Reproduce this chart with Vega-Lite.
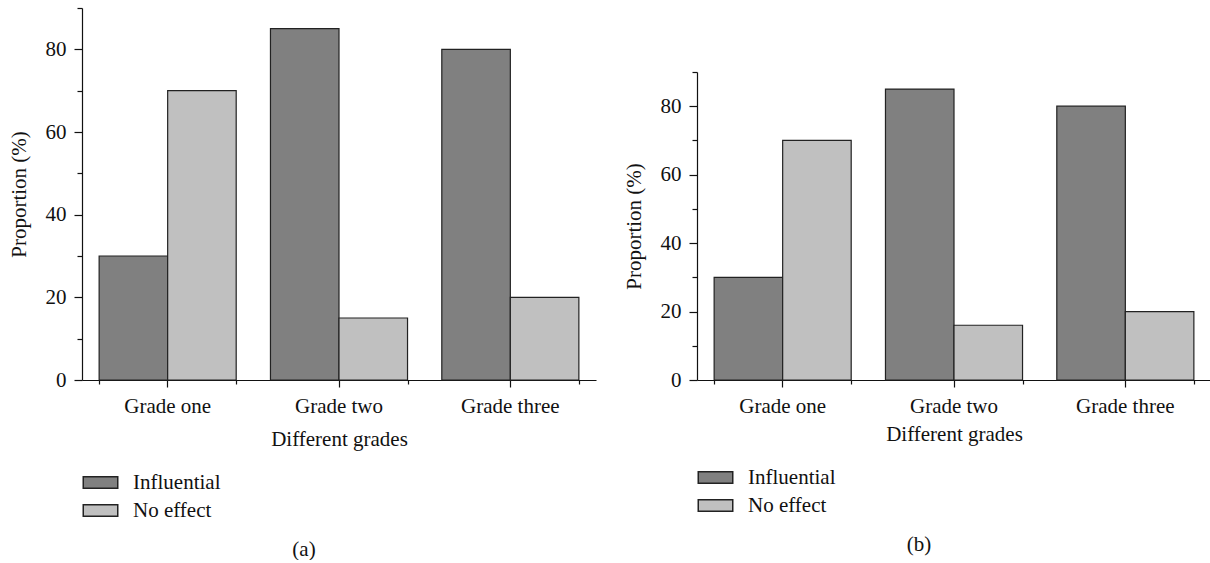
{
  "$schema": "https://vega.github.io/schema/vega-lite/v6.json",
  "padding": {"left": 8, "top": -34, "right": 0, "bottom": 0},
  "spacing": 27,
  "config": {
    "font": "Liberation Serif",
    "view": {"stroke": null},
    "axis": {
      "grid": false,
      "domainColor": "#111",
      "domainWidth": 1.2,
      "tickColor": "#111",
      "tickWidth": 1.2,
      "labelColor": "#111",
      "titleColor": "#111",
      "labelFont": "Liberation Serif",
      "titleFont": "Liberation Serif",
      "labelFontSize": 21,
      "titleFontSize": 21,
      "titleFontWeight": "normal"
    },
    "legend": {
      "labelFont": "Liberation Serif",
      "labelFontSize": 21,
      "labelColor": "#111"
    },
    "title": {"font": "Liberation Serif", "fontSize": 21, "fontWeight": "normal", "color": "#111"}
  },
  "hconcat": [
    {
      "width": 514,
      "height": 372,
      "title": {"text": "(a)", "orient": "bottom", "anchor": "middle", "dx": -35, "offset": 18},
      "data": {"values": [
        {"grade": "Grade one", "effect": "Influential", "value": 30},
        {"grade": "Grade one", "effect": "No effect", "value": 70},
        {"grade": "Grade two", "effect": "Influential", "value": 85},
        {"grade": "Grade two", "effect": "No effect", "value": 15},
        {"grade": "Grade three", "effect": "Influential", "value": 80},
        {"grade": "Grade three", "effect": "No effect", "value": 20}
      ]},
      "layer": [
        {
          "mark": {"type": "bar", "stroke": "#222", "strokeWidth": 1.2},
          "encoding": {
            "x": {"field": "grade", "type": "nominal", "sort": ["Grade one", "Grade two", "Grade three"],
                  "scale": {"paddingInner": 0.2, "paddingOuter": 0.1},
                  "axis": {"title": "Different grades", "labelAngle": 0, "tickSize": 7, "labelPadding": 8, "titleY": 59, "titleBaseline": "middle", "orient": "bottom"}},
            "xOffset": {"field": "effect", "type": "nominal", "sort": ["Influential", "No effect"]},
            "y": {"field": "value", "type": "quantitative", "scale": {"domain": [0, 90], "nice": false},
                  "axis": {"values": [0, 20, 40, 60, 80], "tickSize": 8, "labelPadding": 8, "title": "Proportion (%)", "titleX": -63, "titleBaseline": "middle", "orient": "left"}},
            "color": {"field": "effect", "type": "nominal",
                      "scale": {"domain": ["Influential", "No effect"], "range": ["#808080", "#c0c0c0"]},
                      "legend": {"orient": "none", "legendX": 6, "legendY": 462, "title": null, "padding": 0,
                                 "symbolType": "M-1.5,-0.5L1.5,-0.5L1.5,0.5L-1.5,0.5Z", "symbolSize": 529,
                                 "symbolStrokeColor": "#222", "symbolStrokeWidth": 1.5, "symbolOpacity": 1,
                                 "labelOffset": 20, "rowPadding": 5}}
          }
        },
        {
          "mark": {"type": "bar", "opacity": 0},
          "encoding": {
            "x": {"field": "grade", "type": "nominal", "sort": ["Grade one", "Grade two", "Grade three"],
                  "axis": {"title": null, "labels": false, "domain": false, "tickBand": "extent", "tickSize": 4, "orient": "bottom"}},
            "y": {"field": "value", "type": "quantitative",
                  "axis": {"values": [10, 30, 50, 70, 90], "labels": false, "domain": false, "tickSize": 5, "title": null, "orient": "left"}}
          }
        }
      ],
      "resolve": {"axis": {"x": "independent", "y": "independent"}}
    },
    {
      "width": 514,
      "height": 372,
      "title": {"text": "(b)", "orient": "bottom", "anchor": "middle", "dx": -35, "offset": 18},
      "data": {"values": [
        {"grade": "Grade one", "effect": "Influential", "value": 30},
        {"grade": "Grade one", "effect": "No effect", "value": 70},
        {"grade": "Grade two", "effect": "Influential", "value": 85},
        {"grade": "Grade two", "effect": "No effect", "value": 16},
        {"grade": "Grade three", "effect": "Influential", "value": 80},
        {"grade": "Grade three", "effect": "No effect", "value": 20}
      ]},
      "layer": [
        {
          "mark": {"type": "bar", "stroke": "#222", "strokeWidth": 1.2},
          "encoding": {
            "x": {"field": "grade", "type": "nominal", "sort": ["Grade one", "Grade two", "Grade three"],
                  "scale": {"paddingInner": 0.2, "paddingOuter": 0.1},
                  "axis": {"title": "Different grades", "labelAngle": 0, "tickSize": 7, "labelPadding": 8, "titleY": 54, "titleBaseline": "middle", "orient": "bottom"}},
            "xOffset": {"field": "effect", "type": "nominal", "sort": ["Influential", "No effect"]},
            "y": {"field": "value", "type": "quantitative", "scale": {"domain": [0, 90], "nice": false, "range": [372, 64]},
                  "axis": {"values": [0, 20, 40, 60, 80], "tickSize": 8, "labelPadding": 8, "title": "Proportion (%)", "titleX": -63, "titleBaseline": "middle", "orient": "left"}},
            "color": {"field": "effect", "type": "nominal",
                      "scale": {"domain": ["Influential", "No effect"], "range": ["#808080", "#c0c0c0"]},
                      "legend": {"orient": "none", "legendX": 6, "legendY": 457, "title": null, "padding": 0,
                                 "symbolType": "M-1.5,-0.5L1.5,-0.5L1.5,0.5L-1.5,0.5Z", "symbolSize": 529,
                                 "symbolStrokeColor": "#222", "symbolStrokeWidth": 1.5, "symbolOpacity": 1,
                                 "labelOffset": 20, "rowPadding": 5}}
          }
        },
        {
          "mark": {"type": "bar", "opacity": 0},
          "encoding": {
            "x": {"field": "grade", "type": "nominal", "sort": ["Grade one", "Grade two", "Grade three"],
                  "axis": {"title": null, "labels": false, "domain": false, "tickBand": "extent", "tickSize": 4, "orient": "bottom"}},
            "y": {"field": "value", "type": "quantitative",
                  "axis": {"values": [10, 30, 50, 70, 90], "labels": false, "domain": false, "tickSize": 5, "title": null, "orient": "left"}}
          }
        }
      ],
      "resolve": {"axis": {"x": "independent", "y": "independent"}}
    }
  ],
  "resolve": {"scale": {"color": "independent"}, "legend": {"color": "independent"}}
}
